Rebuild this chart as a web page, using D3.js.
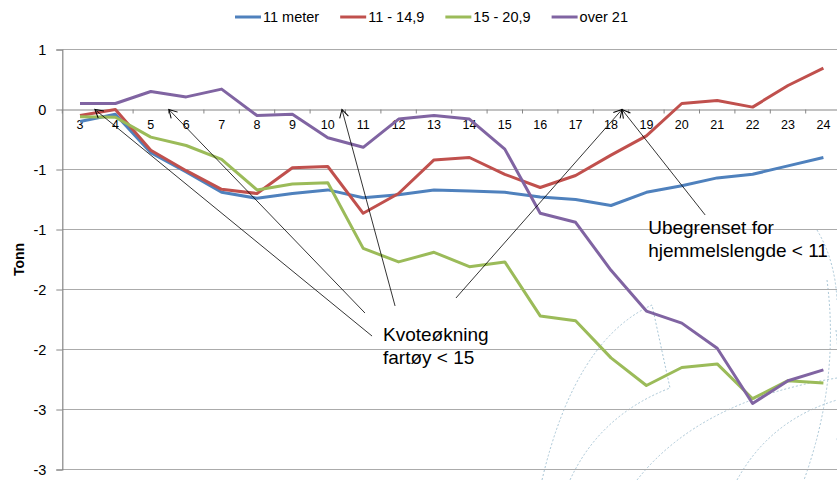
<!DOCTYPE html>
<html><head><meta charset="utf-8">
<script src="https://cdn.jsdelivr.net/npm/d3@7"></script>
<style>body{margin:0;background:#fff}svg{display:block}</style>
</head><body><svg id="c" width="837" height="480"></svg>
<script>
const categories = [3,4,5,6,7,8,9,10,11,12,13,14,15,16,17,18,19,20,21,22,23,24];
const seriesNames = ["11 meter", "11 - 14,9", "15 - 20,9", "over 21"];
const meter11  = [-0.10,-0.04,-0.36,-0.52,-0.69,-0.74,-0.70,-0.67,-0.735,-0.71,-0.67,-0.68,-0.69,-0.73,-0.75,-0.80,-0.69,-0.635,-0.57,-0.54,-0.47,-0.40];
const m11_149  = [-0.05,0.00,-0.34,-0.51,-0.665,-0.70,-0.485,-0.475,-0.865,-0.70,-0.42,-0.40,-0.54,-0.65,-0.55,-0.38,-0.22,0.05,0.075,0.02,0.20,0.345];
const m15_209  = [-0.06,-0.065,-0.23,-0.30,-0.415,-0.67,-0.62,-0.61,-1.157,-1.27,-1.19,-1.31,-1.27,-1.72,-1.76,-2.07,-2.30,-2.15,-2.12,-2.41,-2.26,-2.28];
const over21   = [0.05,0.05,0.15,0.105,0.17,-0.05,-0.04,-0.235,-0.315,-0.08,-0.05,-0.08,-0.33,-0.865,-0.94,-1.34,-1.68,-1.78,-1.99,-2.45,-2.26,-2.17];
const seriesValues = [meter11, m11_149, m15_209, over21];
const seriesColors = ["#4F81BD", "#C0504D", "#9BBB59", "#8064A2"];
const yTicks = [0.5, 0, -0.5, -1, -1.5, -2, -2.5, -3];
const yTickLabels = ["1", "0", "-1", "-1", "-2", "-2", "-3", "-3"];
const yTitle = "Tonn";
// annotation arrows: [tail category, tail value, head category, head value]
const arrowsA = [[11.25,-1.888,3.42,0],[11.05,-1.696,5.51,0],[11.9,-1.637,10.40,0]];
const arrowsB = [[13.62,-1.571,18.31,0],[20.66,-0.879,18.31,0]];
const noteA = ["Kvoteøkning", "fartøy < 15"];
const noteB = ["Ubegrenset for", "hjemmelslengde < 11"];

const svg = d3.select("#c");
const font = "'Liberation Sans', Arial, sans-serif";
const left = 62.3, step = 35.4;
const x = d3.scaleBand().domain(categories).range([left, left + step * categories.length]);
const y = d3.scaleLinear().domain([-3, 0.5]).range([469.5, 49.5]);
const xc = c => x(categories[0]) + x.bandwidth() / 2 + (c - categories[0]) * x.step();
const px = c => x(c) + x.bandwidth() / 2;

// watermark arcs
const wm = svg.append("g").attr("fill","none").attr("stroke","#a9c6d6").attr("stroke-width",1).attr("stroke-dasharray","2,2");
const wmPaths = [
  "M542,480 Q575,340 652,305 L670,388 Q600,415 570,480",
  "M637,480 Q700,400 837,378",
  "M737,480 Q770,420 837,400",
  "M827,280 Q840,380 804,480",
  "M817,230 Q835,260 837,300",
  "M836,330 Q843,400 837,440"
];
wmPaths.forEach(d => wm.append("path").attr("d", d));

// gridlines
svg.append("g").selectAll("line").data(yTicks.filter(v => v !== 0)).join("line")
  .attr("x1", left).attr("x2", 837).attr("y1", d => y(d)).attr("y2", d => y(d))
  .attr("stroke", "#ababab").attr("stroke-width", 1.2);

// y axis
const yAxis = svg.append("g").attr("transform", `translate(${left},0)`)
  .call(d3.axisLeft(y).tickValues(yTicks).tickSize(6).tickPadding(4).tickFormat((d,i) => yTickLabels[i]));
yAxis.select(".domain").attr("stroke", "#868686").attr("stroke-width", 1.2);
yAxis.selectAll(".tick line").attr("stroke", "#868686");
yAxis.selectAll("text").attr("font-family", font).attr("font-size", 14.5).attr("fill", "#000").attr("dx", -6);

// x axis at 0
const xAxis = svg.append("g").attr("transform", `translate(0,${y(0)})`)
  .call(d3.axisBottom(x).tickSize(0).tickPadding(11));
xAxis.select(".domain").attr("stroke", "#868686").attr("stroke-width", 1.2);
xAxis.selectAll("text").attr("font-family", font).attr("font-size", 12.5).attr("fill", "#000");
const bounds = categories.map(c => x(c)).concat([x(categories[categories.length-1]) + x.step()]);
svg.append("g").selectAll("line").data(bounds).join("line")
  .attr("x1", d => d).attr("x2", d => d).attr("y1", y(0)).attr("y2", y(0) + 4)
  .attr("stroke", "#868686");

// y title
svg.append("text").attr("transform", `translate(24,${y(-1.25)}) rotate(-90)`)
  .attr("text-anchor", "middle").attr("font-family", font).attr("font-weight", "bold")
  .attr("font-size", 14).text(yTitle);

// series
const line = d3.line().x((d, i) => px(categories[i])).y(d => y(d));
seriesValues.forEach((vals, k) => {
  svg.append("path").datum(vals).attr("d", line).attr("fill", "none")
    .attr("stroke", seriesColors[k]).attr("stroke-width", 3).attr("stroke-linejoin", "round");
});

// arrows
const defs = svg.append("defs");
defs.append("marker").attr("id", "ah").attr("viewBox", "-10 -6 12 12").attr("refX", 0).attr("refY", 0)
  .attr("markerWidth", 12).attr("markerHeight", 12).attr("markerUnits", "userSpaceOnUse").attr("orient", "auto")
  .append("path").attr("d", "M-8,-4.5 L0,0 L-8,4.5").attr("fill", "none").attr("stroke", "#000").attr("stroke-width", 1);
svg.append("g").selectAll("line").data(arrowsA.concat(arrowsB)).join("line")
  .attr("x1", d => xc(d[0])).attr("y1", d => y(d[1])).attr("x2", d => xc(d[2])).attr("y2", d => y(d[3]))
  .attr("stroke", "#000").attr("stroke-width", 0.8).attr("marker-end", "url(#ah)");

// notes
function note(lines, cx, v) {
  svg.append("g").selectAll("text").data(lines).join("text")
    .attr("x", xc(cx)).attr("y", (d, i) => y(v) + i * 23.5)
    .attr("font-family", font).attr("font-size", 19).attr("fill", "#000").text(d => d);
}
note(noteA, 11.56, -1.925);
note(noteB, 19.05, -1.035);

// legend
const lg = svg.append("g");
let lx = 0;
seriesNames.forEach((n, k) => {
  const g = lg.append("g");
  g.append("line").attr("x1", 0).attr("x2", 26).attr("y1", 0).attr("y2", 0).attr("stroke", seriesColors[k]).attr("stroke-width", 3);
  const t = g.append("text").attr("x", 28).attr("y", 5).attr("font-family", font).attr("font-size", 14.5).text(n);
  const w = 28 + t.node().getComputedTextLength();
  g.attr("transform", `translate(${lx},17)`);
  lx += w + 21;
});
const total = lx - 21;
lg.attr("transform", `translate(${(231 + 632) / 2 - total / 2},0)`);
</script></body></html>
